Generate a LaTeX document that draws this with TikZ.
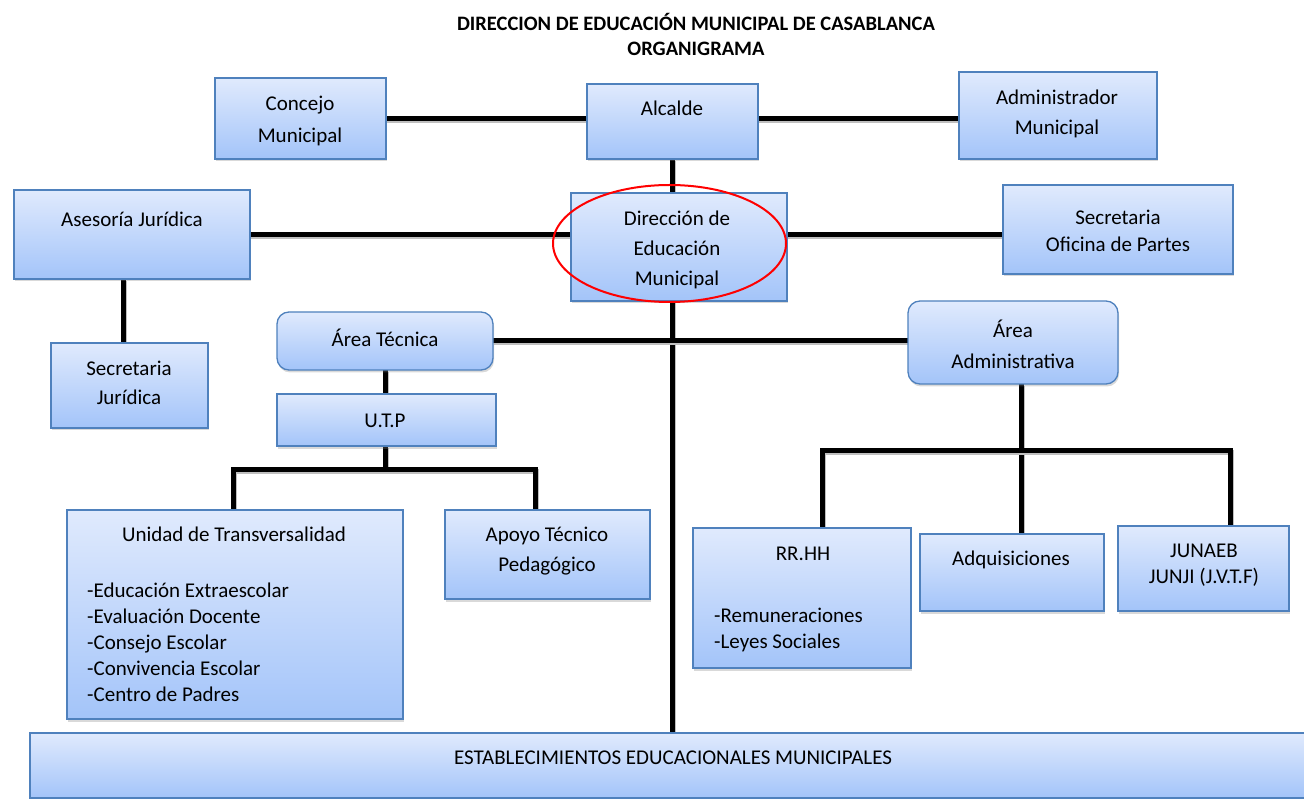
\documentclass[tikz,border=0pt]{standalone}
\usepackage{fontspec}
\setmainfont{Carlito}
\usetikzlibrary{shadows,backgrounds}
\definecolor{boxtop}{RGB}{224,234,253}
\definecolor{boxbot}{RGB}{163,196,249}
\definecolor{boxline}{RGB}{79,129,189}
\newcommand\st{\rule[-0.25em]{0pt}{1em}}
\newcommand\obox[6][box]{\node[#1, minimum width={#5-#3}, minimum height={#6-#4}] (#2) at (#3,#4) {};}
\begin{document}
\begin{tikzpicture}[x=1pt,y=-1pt,
 box/.style={draw=boxline, line width=1.3pt, top color=boxtop, bottom color=boxbot,
   inner sep=0pt, outer sep=0pt, anchor=north west,
   drop shadow={shadow xshift=1pt, shadow yshift=-2.5pt, opacity=0.3}},
 rbox/.style={box, rounded corners=12pt},
 txt/.style={font=\fontsize{21}{30}\selectfont, inner sep=0pt, align=center, yshift=-2pt},
 conn/.style={line width=5pt, black,
   preaction={draw=black!25, line width=5pt, transform canvas={shift={(1pt,-2pt)}}}},
]
\useasboundingbox (0,0) rectangle (1304,799);
% boxes
\obox{conc}{215}{78}{386}{159}
\obox{alc}{587}{84}{758}{159}
\obox{adm}{959}{72}{1157}{159}
\obox{ase}{14}{190}{250}{279}
\obox{dir}{571}{193}{787}{301}
\obox{sec}{1003}{185}{1233}{274}
\obox{secj}{51}{343}{208}{428}
\obox[rbox]{atec}{277}{312}{493}{370}
\obox[rbox]{aadm}{908}{301}{1118}{384}
\obox{utp}{277}{394}{496}{446}
\obox{uni}{67}{510}{403}{719}
\obox{apo}{445}{510}{650}{599}
\obox{rrhh}{693}{528}{911}{668}
\obox{adq}{920}{534}{1104}{611}
\obox{jun}{1118}{526}{1289}{611}
\obox{est}{30}{733}{1312}{798}
% texts
\node[txt, font=\fontsize{20.5}{25}\selectfont\bfseries] (title) at (696,34.5)
  {\st DIRECCION DE EDUCACIÓN MUNICIPAL DE CASABLANCA\\\st ORGANIGRAMA};
\node[txt, font=\fontsize{21}{32}\selectfont] (t-conc) at (300,119) {\st Concejo\\\st Municipal};
\node[txt] (t-alc) at (672,108) {\st Alcalde};
\node[txt] (t-adm) at (1057,112) {\st Administrador\\\st Municipal};
\node[txt] (t-ase) at (132,219) {\st Asesoría Jurídica};
\node[txt] (t-dir) at (677,248) {\st Dirección de\\\st Educación\\\st Municipal};
\node[txt, font=\fontsize{21}{27}\selectfont] (t-sec) at (1118,230.5) {\st Secretaria\\\st Oficina de Partes};
\node[txt, font=\fontsize{21}{29}\selectfont] (t-secj) at (129,382.5) {\st Secretaria\\\st Jurídica};
\node[txt] (t-atec) at (385,338) {\st Área Técnica};
\node[txt, font=\fontsize{21}{31}\selectfont] (t-aadm) at (1013,344.5) {\st Área\\\st Administrativa};
\node[txt] (t-utp) at (385,420) {\st U.T.P};
\node[txt] (t-uni) at (234,534) {\st Unidad de Transversalidad};
\node[txt, font=\fontsize{21}{26}\selectfont, align=left, anchor=west] (t-unil) at (87,642)
  {\st -Educación Extraescolar\\\st -Evaluación Docente\\\st -Consejo Escolar\\\st -Convivencia Escolar\\\st -Centro de Padres};
\node[txt] (t-apo) at (547,549) {\st Apoyo Técnico\\\st Pedagógico};
\node[txt] (t-rrhh) at (803,553) {\st RR.HH};
\node[txt, font=\fontsize{21}{26}\selectfont, align=left, anchor=west] (t-rrhhl) at (714,628)
  {\st -Remuneraciones\\\st -Leyes Sociales};
\node[txt] (t-adq) at (1011,558) {\st Adquisiciones};
\node[txt, font=\fontsize{21}{26}\selectfont] (t-jun) at (1204,563) {\st JUNAEB\\\st JUNJI (J.V.T.F)};
\node[txt] (t-est) at (673,757) {\st ESTABLECIMIENTOS EDUCACIONALES MUNICIPALES};
% highlight
\draw[red, line width=2pt] (669.5,243.5) ellipse [x radius=116.5, y radius=58.5];
% connectors
\coordinate (ub) at (385,469);
\coordinate (ab) at (1000,450);
\coordinate (rr-top) at ([xshift=20pt]rrhh.north);
\coordinate (ju-top) at ([xshift=26.5pt]jun.north);
\coordinate (sj-top) at ([xshift=-6.5pt]secj.north);
\coordinate (ad-bot) at ([xshift=8pt]aadm.south);
\begin{scope}[on background layer]
\draw[conn] (conc.east) -- (conc.east -| adm.west);
\draw[conn] (alc.south) -- (alc.south |- dir.north);
\draw[conn] (ase.east) -- (ase.east -| sec.west);
\draw[conn] (sj-top |- ase.south) -- (sj-top);
\draw[conn] (alc.south |- dir.south) -- (alc.south |- est.north);
\draw[conn] (atec.east) -- (atec.east -| aadm.west);
\draw[conn] (atec.south) -- (atec.south |- utp.north);
\draw[conn] (atec.south |- utp.south) -- (atec.south |- ub);
\draw[conn] ([xshift=-2pt]uni.north) |- (ub) -| ([xshift=-12pt]apo.north);
\draw[conn] (ad-bot) -- (ad-bot |- adq.north);
\draw[conn] (rr-top) |- (ab) -| (ju-top);
\end{scope}
\end{tikzpicture}
\end{document}
